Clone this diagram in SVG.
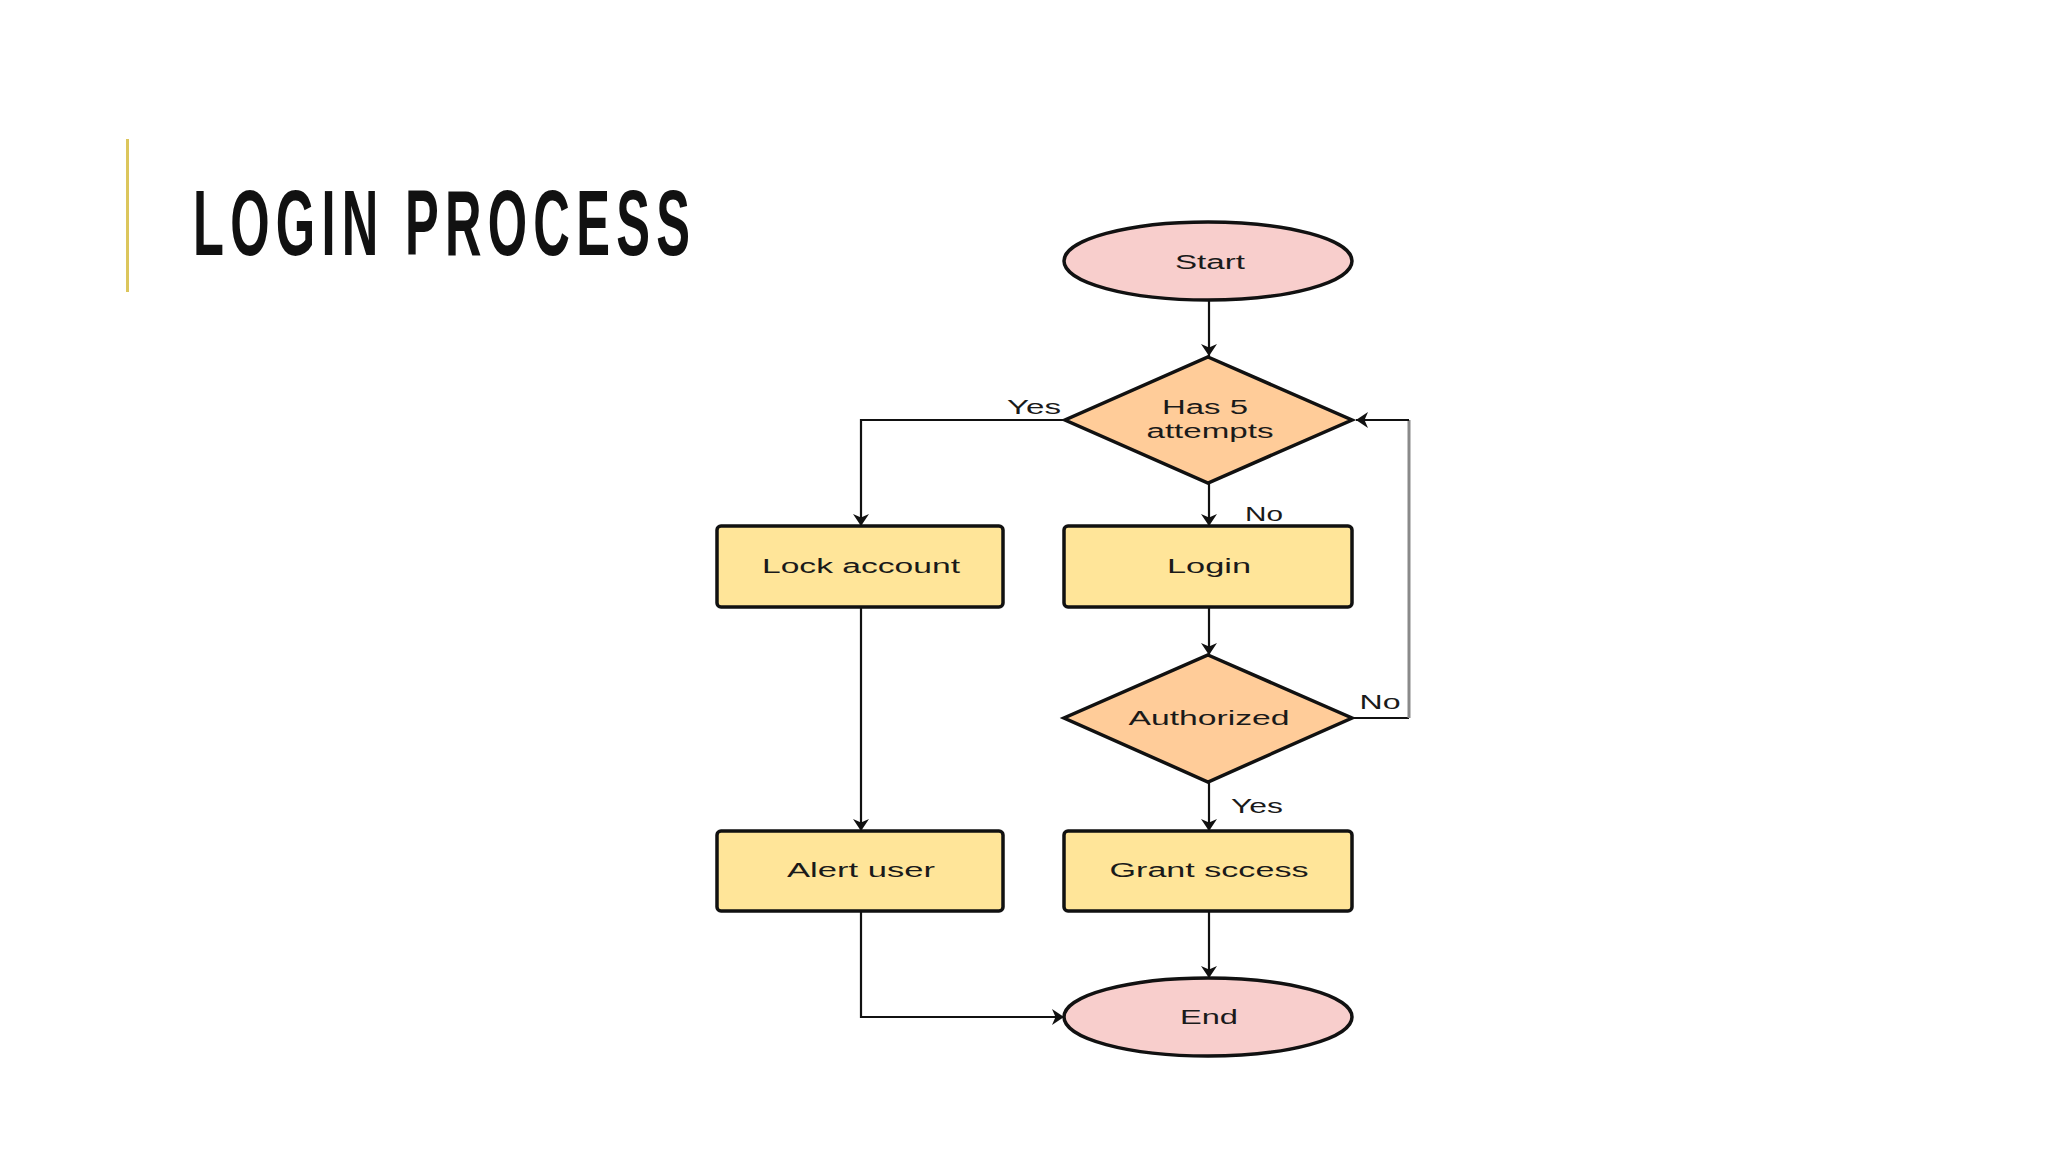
<svg xmlns="http://www.w3.org/2000/svg" width="2048" height="1152" viewBox="0 0 2048 1152">
  <style>
    .title { font-family: "Liberation Sans", Arial, sans-serif; font-size: 92px; font-weight: bold; fill: #111111; letter-spacing: 11.4px; }
    .lbl { font-family: "Liberation Sans", Arial, sans-serif; font-size: 20px; fill: #1a1a1a; text-anchor: middle; }
    .term { fill: #f8cecc; stroke: #111111; stroke-width: 3.5; }
    .dec { fill: #ffcc99; stroke: #111111; stroke-width: 3.5; stroke-linejoin: miter; }
    .proc { fill: #ffe599; stroke: #111111; stroke-width: 3.5; }
    .conn { fill: none; stroke: #111111; stroke-width: 2.2; }
    .loop { fill: none; stroke: #8a8a8a; stroke-width: 3; }
  </style>
  <defs>
    <marker id="arr" viewBox="0 0 12 16" markerWidth="12" markerHeight="16" refX="12" refY="8" orient="auto" markerUnits="userSpaceOnUse">
      <path d="M0,0 L12,8 L0,16 L3.5,8 z" fill="#111111"/>
    </marker>
  </defs>
  <rect x="0" y="0" width="2048" height="1152" fill="#ffffff"/>

  <g id="title">
    <rect x="126" y="139" width="3" height="153" fill="#dcc65c"/>
    <text class="title" transform="translate(193,255) scale(0.55,1)" x="0" y="0">LOGIN PROCESS</text>
  </g>

  <g id="connectors">
    <line class="conn" x1="1209" y1="301" x2="1209" y2="356" marker-end="url(#arr)"/>
    <polyline class="conn" points="1065,420 861,420 861,526" marker-end="url(#arr)"/>
    <line class="conn" x1="1209" y1="484" x2="1209" y2="526" marker-end="url(#arr)"/>
    <line class="conn" x1="1209" y1="607" x2="1209" y2="655" marker-end="url(#arr)"/>
    <polyline class="conn" points="1352,718 1409,718"/>
    <line class="loop" x1="1409" y1="718" x2="1409" y2="420"/>
    <line class="conn" x1="1409" y1="420" x2="1356" y2="420" marker-end="url(#arr)"/>
    <line class="conn" x1="1209" y1="783" x2="1209" y2="831" marker-end="url(#arr)"/>
    <line class="conn" x1="861" y1="607" x2="861" y2="831" marker-end="url(#arr)"/>
    <line class="conn" x1="1209" y1="911" x2="1209" y2="978" marker-end="url(#arr)"/>
    <polyline class="conn" points="861,911 861,1017 1064,1017" marker-end="url(#arr)"/>
    <text class="lbl" x="1034" y="414" textLength="54" lengthAdjust="spacingAndGlyphs">Yes</text>
    <text class="lbl" x="1264" y="521" textLength="38" lengthAdjust="spacingAndGlyphs">No</text>
    <text class="lbl" x="1380" y="709" textLength="41" lengthAdjust="spacingAndGlyphs">No</text>
    <text class="lbl" x="1257" y="813" textLength="52" lengthAdjust="spacingAndGlyphs">Yes</text>
  </g>

  <g id="start">
    <ellipse class="term" cx="1208" cy="261" rx="144" ry="39"/>
    <text class="lbl" x="1210" y="269" textLength="70" lengthAdjust="spacingAndGlyphs">Start</text>
  </g>

  <g id="has5attempts">
    <polygon class="dec" points="1208,357 1352,420 1208,483 1065,420"/>
    <text class="lbl" x="1205" y="414" textLength="86" lengthAdjust="spacingAndGlyphs">Has 5</text>
    <text class="lbl" x="1210" y="438" textLength="127" lengthAdjust="spacingAndGlyphs">attempts</text>
  </g>

  <g id="lockaccount">
    <rect class="proc" x="717" y="526" width="286" height="81" rx="4"/>
    <text class="lbl" x="861" y="573" textLength="198" lengthAdjust="spacingAndGlyphs">Lock account</text>
  </g>

  <g id="login">
    <rect class="proc" x="1064" y="526" width="288" height="81" rx="4"/>
    <text class="lbl" x="1209" y="573" textLength="84" lengthAdjust="spacingAndGlyphs">Login</text>
  </g>

  <g id="authorized">
    <polygon class="dec" points="1208,655 1352,718 1208,782 1064,718"/>
    <text class="lbl" x="1209" y="725" textLength="161" lengthAdjust="spacingAndGlyphs">Authorized</text>
  </g>

  <g id="alertuser">
    <rect class="proc" x="717" y="831" width="286" height="80" rx="4"/>
    <text class="lbl" x="861" y="877" textLength="148" lengthAdjust="spacingAndGlyphs">Alert user</text>
  </g>

  <g id="grantaccess">
    <rect class="proc" x="1064" y="831" width="288" height="80" rx="4"/>
    <text class="lbl" x="1209" y="877" textLength="199" lengthAdjust="spacingAndGlyphs">Grant sccess</text>
  </g>

  <g id="end">
    <ellipse class="term" cx="1208" cy="1017" rx="144" ry="39"/>
    <text class="lbl" x="1209" y="1024" textLength="58" lengthAdjust="spacingAndGlyphs">End</text>
  </g>
</svg>
